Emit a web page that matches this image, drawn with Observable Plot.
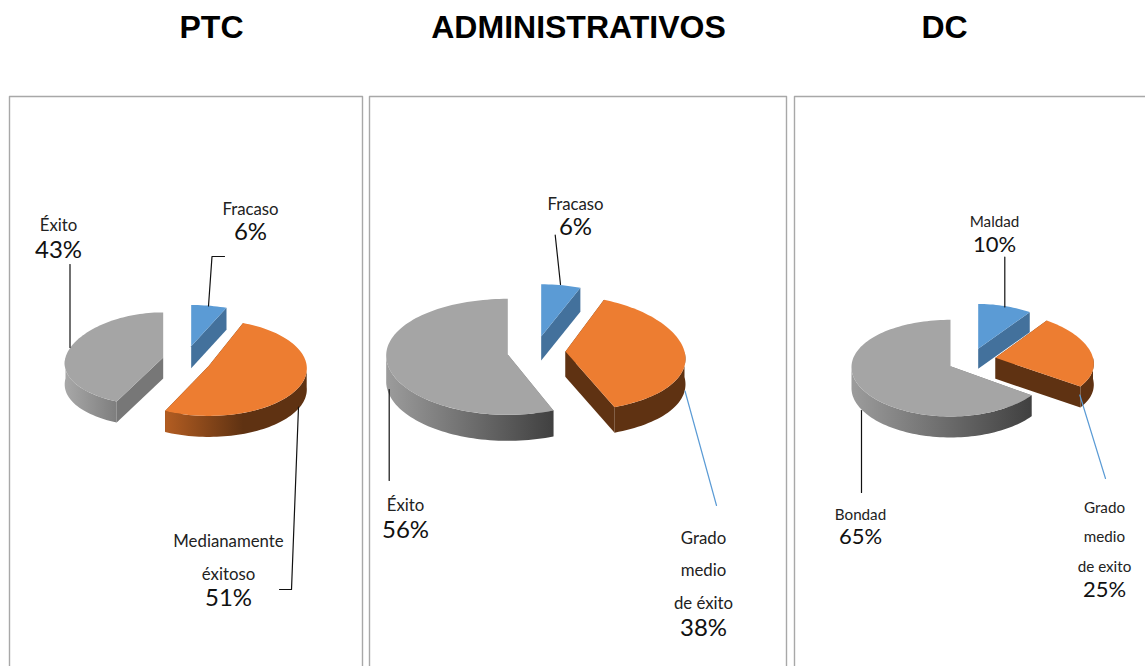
<!DOCTYPE html>
<html>
<head>
<meta charset="utf-8">
<script src="https://cdn.jsdelivr.net/npm/d3@7"></script>
<script src="https://cdn.jsdelivr.net/npm/@observablehq/plot@0.6"></script>
<style>html,body{margin:0;padding:0;background:#fff}svg{display:block}</style>
</head>
<body>
<div id="chart"></div>
<script>
// Data
const panelTitles = ["PTC", "ADMINISTRATIVOS", "DC"];
const ptcCategories = ["Fracaso", "Medianamente|éxitoso", "Éxito"];
const ptcShares = [6, 51, 43];
const adminCategories = ["Fracaso", "Grado|medio|de éxito", "Éxito"];
const adminShares = [6, 38, 56];
const dcCategories = ["Maldad", "Grado|medio|de exito", "Bondad"];
const dcShares = [10, 25, 65];

// Layout (pixels of the page), kept apart from the data
const W = 1145, H = 666;
const titleX = [211, 578, 944];
const frames = [
  [[9, 666], [9, 96], [362, 96], [362, 666]],
  [[369, 666], [369, 96], [786, 96], [786, 666]],
  [[794, 666], [794, 96], [1145, 96]]
];
const tints = {
  top: ["#5b9bd5", "#ed7d31", "#a5a5a5"],
  cut: ["#43719c", "#5f3212", "#777777"]
};
const panels = [
  {
    categories: ptcCategories, shares: ptcShares,
    slices: [
      {cx: 190.7, cy: 345.7, rx: 109, ry: 42.9, d: 22},
      {cx: 208.2, cy: 365.5, rx: 98, ry: 48, d: 21, k: 0.05, wall: "url(#wallOrangeLight)"},
      {cx: 162.7, cy: 357, rx: 97.7, ry: 47, d: 21, wall: "url(#wallGrayShort)"}
    ],
    labels: [
      {x: 250, ys: [209], py: 232, fs: 16.8, ps: 24},
      {x: 228, ys: [541, 574], py: 598, fs: 16.8, ps: 24},
      {x: 58, ys: [225], py: 249.5, fs: 16.8, ps: 24}
    ],
    leaders: [
      {color: "#111", pts: [[224, 256], [211.5, 256], [208, 305.5]]},
      {color: "#111", pts: [[298, 406.5], [291, 589], [279, 589]]},
      {color: "#111", pts: [[69.5, 264], [69.5, 347]]}
    ]
  },
  {
    categories: adminCategories, shares: adminShares,
    slices: [
      {cx: 540.7, cy: 336, rx: 121, ry: 54.4, d: 24},
      {cx: 565, cy: 351, rx: 119, ry: 57.7, d: 25.5, wall: "#5f3212"},
      {cx: 507.3, cy: 354, rx: 121.6, ry: 58, d: 26, k: 0.02, wall: "url(#wallGrayLong)"}
    ],
    labels: [
      {x: 575, ys: [204], py: 227, fs: 16.8, ps: 24},
      {x: 703, ys: [538, 570, 603], py: 627.5, fs: 16.8, ps: 24},
      {x: 405, ys: [505], py: 529.5, fs: 16.8, ps: 24}
    ],
    leaders: [
      {color: "#111", pts: [[554.7, 234.5], [560, 284]]},
      {color: "#5b9bd5", pts: [[684.5, 390.5], [716, 505]]},
      {color: "#111", pts: [[388.7, 389], [388.7, 480]]}
    ]
  },
  {
    categories: dcCategories, shares: dcShares,
    slices: [
      {cx: 977.7, cy: 348.3, rx: 98, ry: 46.7, d: 20},
      {cx: 995, cy: 357.3, rx: 97.5, ry: 47.6, d: 21, wall: "#5f3212"},
      {cx: 950, cy: 365.7, rx: 99, ry: 48.3, d: 21, k: 0.02, wall: "url(#wallGrayLong)"}
    ],
    labels: [
      {x: 994, ys: [222], py: 244, fs: 15.2, ps: 22},
      {x: 1104, ys: [508, 537, 567], py: 589, fs: 15.2, ps: 22},
      {x: 860, ys: [515], py: 536, fs: 15.2, ps: 22}
    ],
    leaders: [
      {color: "#111", pts: [[1004.3, 256.5], [1004.3, 306.5]]},
      {color: "#5b9bd5", pts: [[1079.3, 394.5], [1105, 478]]},
      {color: "#111", pts: [[861, 410], [861, 492]]}
    ]
  }
];

const sans = "Lato, 'Open Sans', sans-serif";

function gradientDefs() {
  const defs = d3.create("svg:defs");
  const add = (id, stops) => {
    const g = defs.append("linearGradient").attr("id", id)
      .attr("x1", 0).attr("x2", 1).attr("y1", 0).attr("y2", 0);
    for (const [o, c] of stops) g.append("stop").attr("offset", o).attr("stop-color", c);
  };
  add("wallOrangeLight", [[0, "#b35d22"], [0.55, "#5f3212"], [1, "#5f3212"]]);
  add("wallGrayShort", [[0, "#a8a8a8"], [1, "#7e7e7e"]]);
  add("wallGrayLong", [[0, "#9c9c9c"], [1, "#404040"]]);
  return defs.node();
}

const rad = Math.PI / 180;
const depthY = 0.04;
function rim(s, from, to, drop = 0) {
  const pts = [];
  const k = s.k ?? 0.13;
  const n = Math.max(2, Math.ceil(Math.abs(to - from) / 2));
  for (let i = 0; i <= n; i++) {
    const a = (from + (to - from) * i / n) * rad;
    const c = Math.cos(a);
    pts.push({
      x: s.cx + s.rx * Math.sin(a) * (1 - k * c),
      y: s.cy - s.ry * c * (1 - depthY * c) + drop
    });
  }
  return pts;
}

function face(points, fill) {
  return Plot.line(points, {x: "x", y: "y", fill, stroke: "none", curve: "linear-closed"});
}

const marks = [gradientDefs];

frames.forEach(f => marks.push(Plot.line(f, {x: d => d[0], y: d => d[1], stroke: "#a8a8a8", strokeWidth: 1.4})));

panelTitles.forEach((t, i) => marks.push(Plot.text([t], {
  x: () => titleX[i], y: () => 27, text: d => d,
  fontFamily: "'Liberation Sans', Arial, sans-serif", fontWeight: "bold", fontSize: 32,
  fill: "#000", textAnchor: "middle", lineAnchor: "middle"
})));

for (const p of panels) {
  const total = d3.sum(p.shares);
  let run = 0;
  const angles = p.shares.map(v => { const a = run; run += v; return [a / total * 360, run / total * 360]; });
  // blue first, then gray, then orange on top of it
  for (const i of [0, 2, 1]) {
    const s = p.slices[i];
    const [a, b] = angles[i];
    const apex = {x: s.cx, y: s.cy};
    const low = {x: s.cx, y: s.cy + s.d};
    // cut faces
    for (const e of [a, b]) {
      const top = rim(s, e, e)[0];
      const bot = {x: top.x, y: top.y + s.d};
      marks.push(face([apex, top, bot, low], tints.cut[i]));
    }
    // outer wall, front half only
    const wa = Math.max(a, 90), wb = Math.min(b, 270);
    if (wb > wa) {
      marks.push(face([...rim(s, wa, wb), ...rim(s, wa, wb, s.d).reverse()], s.wall || tints.cut[i]));
    }
    // top
    marks.push(face([apex, ...rim(s, a, b)], tints.top[i]));
  }
  for (const l of p.leaders) {
    marks.push(Plot.line(l.pts, {x: d => d[0], y: d => d[1], stroke: l.color, strokeWidth: 1.2}));
  }
  p.categories.forEach((c, i) => {
    const lab = p.labels[i];
    const rows = c.split("|").map((t, k) => ({t, y: lab.ys[k]}));
    marks.push(Plot.text(rows, {
      x: () => lab.x, y: "y", text: "t", fontFamily: sans, fontSize: lab.fs,
      fill: "#222", textAnchor: "middle", lineAnchor: "middle"
    }));
    marks.push(Plot.text([`${p.shares[i]}%`], {
      x: () => lab.x, y: () => lab.py, text: d => d, fontFamily: sans, fontSize: lab.ps,
      fill: "#111", textAnchor: "middle", lineAnchor: "middle"
    }));
  });
}

const chart = Plot.plot({
  width: W, height: H, margin: 0,
  x: {domain: [0, W], range: [0, W], axis: null},
  y: {domain: [0, H], range: [0, H], axis: null},
  style: {background: "#fff"},
  marks
});
document.getElementById("chart").append(chart);
</script>
</body>
</html>
